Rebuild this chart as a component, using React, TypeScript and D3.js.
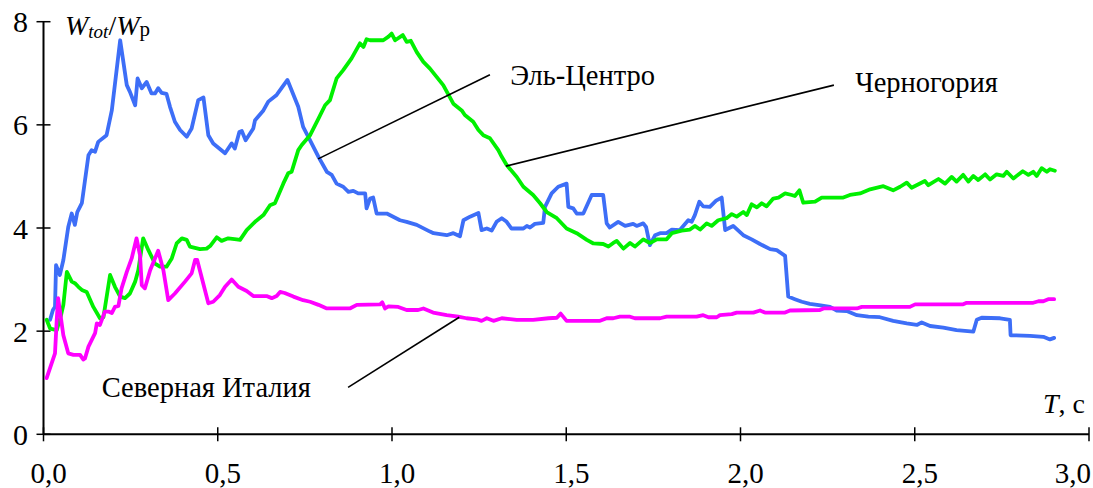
import React from "react";
import * as d3 from "d3";

type P = [number, number];

const xTicks = [0, 0.5, 1.0, 1.5, 2.0, 2.5, 3.0];
const xTickLabels = ["0,0", "0,5", "1,0", "1,5", "2,0", "2,5", "3,0"];
const yTicks = [0, 2, 4, 6, 8];
const yTickLabels = ["0", "2", "4", "6", "8"];

const elCentro: P[] = [
  [0.019,2.22],[0.027,2.41],[0.033,2.47],[0.036,3.28],[0.047,3.09],[0.057,3.38],[0.071,4.02],[0.081,4.28],[0.090,4.06],[0.097,4.31],[0.110,4.48],[0.129,5.41],[0.138,5.51],[0.148,5.48],[0.157,5.67],[0.181,5.80],[0.196,6.28],[0.220,7.64],[0.239,6.77],[0.248,6.64],[0.263,6.38],[0.270,6.90],[0.282,6.71],[0.296,6.83],[0.310,6.61],[0.320,6.61],[0.329,6.71],[0.339,6.62],[0.353,6.60],[0.363,6.35],[0.377,6.06],[0.392,5.90],[0.411,5.77],[0.425,5.93],[0.444,6.48],[0.459,6.53],[0.473,5.80],[0.487,5.64],[0.521,5.45],[0.540,5.64],[0.549,5.54],[0.562,5.86],[0.569,5.88],[0.580,5.70],[0.602,5.93],[0.607,6.09],[0.631,6.28],[0.645,6.45],[0.669,6.58],[0.700,6.87],[0.731,6.35],[0.745,5.96],[0.765,5.70],[0.789,5.38],[0.813,5.09],[0.827,5.03],[0.841,4.86],[0.860,4.80],[0.875,4.70],[0.889,4.72],[0.903,4.67],[0.923,4.67],[0.927,4.38],[0.937,4.57],[0.946,4.59],[0.956,4.28],[0.985,4.28],[1.023,4.15],[1.042,4.12],[1.071,4.06],[1.109,3.93],[1.119,3.90],[1.157,3.86],[1.176,3.90],[1.195,3.84],[1.205,4.15],[1.224,4.22],[1.248,4.29],[1.257,3.96],[1.272,3.99],[1.286,3.95],[1.300,4.12],[1.315,4.19],[1.329,4.12],[1.343,3.99],[1.377,3.99],[1.387,4.04],[1.396,4.01],[1.410,4.08],[1.434,4.10],[1.439,4.41],[1.458,4.67],[1.477,4.80],[1.501,4.86],[1.506,4.41],[1.520,4.38],[1.530,4.28],[1.549,4.28],[1.573,4.64],[1.606,4.64],[1.616,4.09],[1.625,4.01],[1.649,4.12],[1.669,4.04],[1.692,4.08],[1.702,4.04],[1.721,4.09],[1.729,4.02],[1.740,3.67],[1.755,3.86],[1.769,3.90],[1.788,3.90],[1.803,3.97],[1.826,3.96],[1.850,4.15],[1.860,4.12],[1.869,4.25],[1.882,4.51],[1.893,4.42],[1.912,4.41],[1.930,4.53],[1.946,4.59],[1.956,3.96],[1.979,4.04],[2.008,3.86],[2.032,3.78],[2.056,3.69],[2.085,3.59],[2.104,3.57],[2.128,3.46],[2.137,2.67],[2.156,2.62],[2.176,2.57],[2.199,2.53],[2.230,2.50],[2.257,2.47],[2.276,2.40],[2.305,2.39],[2.334,2.31],[2.367,2.28],[2.400,2.27],[2.438,2.20],[2.477,2.15],[2.506,2.12],[2.520,2.17],[2.544,2.10],[2.582,2.07],[2.620,2.02],[2.668,1.99],[2.678,2.22],[2.692,2.26],[2.745,2.25],[2.773,2.22],[2.775,1.92],[2.831,1.91],[2.869,1.89],[2.888,1.84],[2.900,1.87]
];

const montenegro: P[] = [
  [0.009,2.22],[0.019,2.05],[0.038,2.02],[0.050,2.30],[0.057,2.51],[0.067,3.15],[0.081,2.96],[0.090,2.93],[0.100,2.86],[0.110,2.80],[0.124,2.76],[0.143,2.47],[0.162,2.25],[0.172,2.27],[0.191,3.09],[0.205,2.86],[0.220,2.67],[0.234,2.64],[0.248,2.73],[0.263,2.96],[0.272,3.18],[0.286,3.80],[0.301,3.57],[0.320,3.31],[0.334,3.25],[0.353,3.25],[0.368,3.41],[0.382,3.70],[0.397,3.80],[0.411,3.77],[0.420,3.64],[0.449,3.59],[0.468,3.60],[0.478,3.65],[0.497,3.82],[0.511,3.75],[0.530,3.80],[0.554,3.78],[0.564,3.77],[0.583,3.96],[0.607,4.12],[0.631,4.25],[0.650,4.44],[0.664,4.48],[0.688,4.86],[0.702,5.06],[0.712,5.09],[0.731,5.51],[0.741,5.61],[0.765,5.80],[0.789,6.12],[0.808,6.38],[0.822,6.48],[0.841,6.90],[0.860,7.06],[0.884,7.29],[0.908,7.58],[0.918,7.51],[0.927,7.66],[0.937,7.64],[0.975,7.64],[0.990,7.71],[0.999,7.77],[1.009,7.64],[1.031,7.74],[1.042,7.61],[1.054,7.63],[1.071,7.41],[1.090,7.22],[1.109,7.09],[1.128,6.93],[1.147,6.77],[1.176,6.41],[1.200,6.28],[1.209,6.19],[1.233,6.06],[1.248,5.90],[1.262,5.80],[1.281,5.74],[1.305,5.51],[1.315,5.38],[1.329,5.22],[1.358,4.99],[1.377,4.80],[1.405,4.64],[1.425,4.48],[1.444,4.31],[1.473,4.19],[1.501,3.99],[1.530,3.90],[1.559,3.77],[1.578,3.70],[1.606,3.69],[1.621,3.64],[1.635,3.71],[1.645,3.75],[1.664,3.60],[1.683,3.71],[1.697,3.64],[1.721,3.78],[1.740,3.71],[1.760,3.78],[1.788,3.78],[1.803,3.90],[1.831,3.95],[1.855,3.97],[1.869,4.04],[1.884,3.97],[1.903,4.09],[1.917,4.04],[1.936,4.15],[1.960,4.19],[1.975,4.27],[1.989,4.22],[2.008,4.31],[2.018,4.25],[2.032,4.46],[2.047,4.40],[2.061,4.48],[2.075,4.42],[2.094,4.57],[2.109,4.59],[2.128,4.67],[2.147,4.64],[2.156,4.62],[2.169,4.73],[2.180,4.49],[2.214,4.51],[2.233,4.59],[2.295,4.59],[2.314,4.64],[2.343,4.67],[2.372,4.75],[2.410,4.81],[2.438,4.73],[2.458,4.80],[2.477,4.88],[2.491,4.78],[2.529,4.91],[2.539,4.83],[2.568,4.95],[2.587,4.86],[2.606,4.99],[2.620,4.90],[2.639,5.03],[2.654,4.90],[2.668,5.01],[2.682,4.93],[2.702,5.04],[2.716,4.94],[2.735,5.04],[2.754,5.01],[2.764,5.09],[2.783,4.96],[2.810,5.10],[2.826,5.03],[2.840,5.09],[2.850,5.01],[2.864,5.16],[2.879,5.09],[2.888,5.14],[2.902,5.11]
];

const northItaly: P[] = [
  [0.009,1.09],[0.033,1.57],[0.038,2.22],[0.042,2.64],[0.057,1.92],[0.071,1.57],[0.086,1.54],[0.105,1.54],[0.114,1.45],[0.119,1.47],[0.129,1.70],[0.148,1.96],[0.153,2.15],[0.162,2.12],[0.176,2.38],[0.186,2.38],[0.196,2.35],[0.205,2.47],[0.215,2.49],[0.224,2.83],[0.239,3.15],[0.253,3.41],[0.267,3.80],[0.277,3.47],[0.282,2.89],[0.291,2.83],[0.306,3.18],[0.329,3.56],[0.344,3.18],[0.358,2.60],[0.377,2.73],[0.406,2.96],[0.425,3.12],[0.435,3.38],[0.441,3.38],[0.473,2.54],[0.487,2.57],[0.506,2.70],[0.521,2.86],[0.540,3.00],[0.559,2.86],[0.583,2.78],[0.602,2.68],[0.640,2.68],[0.655,2.64],[0.669,2.68],[0.679,2.76],[0.692,2.74],[0.717,2.67],[0.745,2.60],[0.765,2.57],[0.789,2.51],[0.813,2.44],[0.879,2.44],[0.899,2.51],[0.966,2.52],[0.972,2.56],[0.980,2.44],[0.990,2.48],[1.018,2.47],[1.042,2.41],[1.075,2.41],[1.090,2.44],[1.118,2.36],[1.157,2.31],[1.190,2.28],[1.214,2.25],[1.243,2.23],[1.257,2.20],[1.272,2.25],[1.291,2.20],[1.315,2.25],[1.358,2.22],[1.405,2.22],[1.449,2.25],[1.473,2.26],[1.484,2.34],[1.501,2.20],[1.597,2.20],[1.616,2.25],[1.635,2.25],[1.654,2.28],[1.683,2.28],[1.697,2.25],[1.769,2.25],[1.788,2.28],[1.874,2.28],[1.893,2.31],[1.908,2.27],[1.932,2.27],[1.941,2.31],[1.975,2.33],[1.989,2.36],[2.037,2.36],[2.056,2.40],[2.070,2.36],[2.128,2.36],[2.142,2.40],[2.228,2.41],[2.238,2.44],[2.334,2.44],[2.348,2.47],[2.486,2.47],[2.501,2.52],[2.639,2.52],[2.649,2.55],[2.840,2.55],[2.855,2.58],[2.869,2.58],[2.883,2.62],[2.900,2.62]
];

const seriesNames = ["Эль-Центро", "Черногория", "Северная Италия"];
const seriesColors = ["#3d6ef7", "#00f000", "#ff00ff"];

// leader lines in data units: [from label, to curve]
const leaders: [P, P][] = [
  [[1.281, 6.97], [0.788, 5.34]],
  [[2.268, 6.77], [1.327, 5.20]],
  [[0.874, 0.91], [1.193, 2.27]],
];
// label anchor (data units, text start / baseline)
const labelPos: P[] = [
  [1.339, 6.77],
  [2.329, 6.63],
  [0.167, 0.73],
];

const W = 1093;
const H = 488;
const FONT = "Liberation Serif, Tinos, Times New Roman, DejaVu Serif, serif";

export default function App() {
  const x = d3.scaleLinear().domain([0, 3]).range([43.5, 1089]);
  const y = d3.scaleLinear().domain([0, 8]).range([434.3, 21.7]);
  const line = d3
    .line<P>()
    .x((d) => x(d[0]))
    .y((d) => y(d[1]));
  const all = [elCentro, montenegro, northItaly];

  return (
    <svg
      width={W}
      height={H}
      style={{ position: "absolute", left: 0, top: 0, background: "#fff", fontFamily: FONT }}
    >
      <rect width={W} height={H} fill="#fff" />
      {/* axes */}
      <line x1={x(0)} x2={x(3)} y1={y(0)} y2={y(0)} stroke="#000" strokeWidth={2} />
      <line x1={x(0)} x2={x(0)} y1={y(0)} y2={y(8)} stroke="#000" strokeWidth={2} />
      {xTicks.map((t, i) => {
        const last = i === xTicks.length - 1;
        return (
          <g key={"xt" + i}>
            <line x1={x(t)} x2={x(t)} y1={y(0) - 7} y2={y(0) + 7} stroke="#000" strokeWidth={1.5} />
            <text
              x={last ? 1091 : x(t) + 5}
              y={483}
              fontSize={29}
              textAnchor={last ? "end" : "middle"}
              fill="#000"
              style={{ fontFamily: FONT }}
            >
              {xTickLabels[i]}
            </text>
          </g>
        );
      })}
      {yTicks.map((t, i) => (
        <g key={"yt" + i}>
          <line x1={x(0) - 7} x2={x(0) + 7} y1={y(t)} y2={y(t)} stroke="#000" strokeWidth={1.5} />
          <text x={28} y={y(t) + 10.5} fontSize={30} textAnchor="end" fill="#000" style={{ fontFamily: FONT }}>
            {yTickLabels[i]}
          </text>
        </g>
      ))}
      {/* series lines */}
      {all.map((s, i) => (
        <path
          key={"s" + i}
          d={line(s) || ""}
          fill="none"
          stroke={seriesColors[i]}
          strokeWidth={3.8}
          strokeLinejoin="round"
          strokeLinecap="round"
        />
      ))}
      {/* leader lines */}
      {leaders.map((l, i) => (
        <line
          key={"l" + i}
          x1={x(l[0][0])}
          y1={y(l[0][1])}
          x2={x(l[1][0])}
          y2={y(l[1][1])}
          stroke="#000"
          strokeWidth={1.6}
        />
      ))}
      {seriesNames.map((n, i) => (
        <text
          key={"n" + i}
          x={x(labelPos[i][0])}
          y={y(labelPos[i][1])}
          fontSize={28.5}
          fill="#000"
          style={{ fontFamily: FONT }}
        >
          {n}
        </text>
      ))}
      {/* axis titles */}
      <text x={65} y={35} fontSize={28} fill="#000" style={{ fontFamily: FONT }}>
        <tspan fontStyle="italic">W</tspan>
        <tspan fontStyle="italic" fontSize={19} dy={3}>tot</tspan>
        <tspan dy={-3}>/</tspan>
        <tspan fontStyle="italic">W</tspan>
        <tspan fontSize={21} dy={1}>p</tspan>
      </text>
      <text x={1043} y={413} fontSize={28} fill="#000" style={{ fontFamily: FONT }}>
        <tspan fontStyle="italic">T</tspan>
        <tspan>, c</tspan>
      </text>
    </svg>
  );
}
